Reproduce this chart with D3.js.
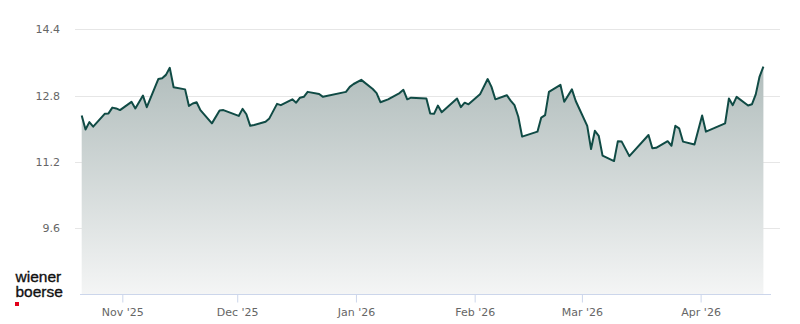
<!DOCTYPE html>
<html>
<head>
<meta charset="utf-8">
<script src="https://cdn.jsdelivr.net/npm/d3@7/dist/d3.min.js"></script>
<style>
  html, body { margin: 0; padding: 0; background: #ffffff; }
  svg { display: block; }
</style>
</head>
<body>
<svg id="chart" width="800" height="324"></svg>
<script>
// ---- data (closing prices) ----
const dates = [
  "2025-10-21","2025-10-22","2025-10-23","2025-10-24","2025-10-27","2025-10-28","2025-10-29","2025-10-30","2025-10-31",
  "2025-11-03","2025-11-04","2025-11-06","2025-11-07","2025-11-10","2025-11-11","2025-11-12","2025-11-13","2025-11-14",
  "2025-11-17","2025-11-18","2025-11-19","2025-11-20","2025-11-21","2025-11-24","2025-11-26","2025-11-27",
  "2025-12-01","2025-12-02","2025-12-03","2025-12-04","2025-12-05","2025-12-08","2025-12-09","2025-12-11","2025-12-12",
  "2025-12-15","2025-12-16","2025-12-17","2025-12-18","2025-12-19","2025-12-22","2025-12-23","2025-12-29","2025-12-30","2025-12-31",
  "2026-01-02","2026-01-05","2026-01-06","2026-01-07","2026-01-09","2026-01-12","2026-01-13","2026-01-14","2026-01-15",
  "2026-01-19","2026-01-20","2026-01-21","2026-01-22","2026-01-23","2026-01-27","2026-01-28","2026-01-29","2026-01-30",
  "2026-02-02","2026-02-04","2026-02-05","2026-02-06","2026-02-09","2026-02-10","2026-02-11","2026-02-12","2026-02-13",
  "2026-02-16","2026-02-17","2026-02-18","2026-02-19","2026-02-20","2026-02-23","2026-02-24","2026-02-26","2026-02-27",
  "2026-03-02","2026-03-03","2026-03-04","2026-03-05","2026-03-06","2026-03-09","2026-03-10","2026-03-11","2026-03-13",
  "2026-03-18","2026-03-19","2026-03-20","2026-03-23","2026-03-24","2026-03-25","2026-03-26","2026-03-27","2026-03-30",
  "2026-04-01","2026-04-02","2026-04-07","2026-04-08","2026-04-09","2026-04-10","2026-04-13","2026-04-14","2026-04-15",
  "2026-04-16","2026-04-17"
];
const prices = [
  12.32,11.98,12.16,12.05,12.36,12.37,12.51,12.49,12.45,
  12.65,12.49,12.80,12.52,13.20,13.22,13.30,13.47,13.00,
  12.95,12.55,12.61,12.64,12.45,12.13,12.44,12.45,
  12.31,12.48,12.35,12.07,12.09,12.17,12.25,12.60,12.57,
  12.71,12.63,12.75,12.77,12.89,12.84,12.77,12.89,13.01,13.08,
  13.18,12.96,12.86,12.64,12.71,12.86,12.94,12.71,12.75,
  12.73,12.37,12.36,12.56,12.40,12.73,12.52,12.63,12.59,
  12.83,13.20,13.01,12.71,12.81,12.68,12.57,12.29,11.81,
  11.90,11.93,12.27,12.33,12.89,13.06,12.65,12.95,12.67,
  12.07,11.51,11.95,11.83,11.35,11.22,11.70,11.69,11.34,
  11.85,11.53,11.54,11.70,11.59,12.07,12.01,11.69,11.62,
  12.32,11.93,12.13,12.73,12.57,12.77,12.56,12.59,12.83,
  13.26,13.50
];
const yTicks = [9.6, 11.2, 12.8, 14.4];
const xTickDates = ["2025-11-01","2025-12-01","2026-01-01","2026-02-01","2026-03-01","2026-04-01"];
const yDomain = [8.0, 14.4];
const logoLines = ["wiener", "boerse"];

// ---- build ----
const parse = d3.timeParse("%Y-%m-%d");
const data = dates.map((d, i) => ({ date: parse(d), value: prices[i] }));

const svg = d3.select("#chart");
const plotTop = 29.3, plotBottom = 294.5;

const x = d3.scaleTime()
  .domain(d3.extent(data, d => d.date))
  .range([81.7, 763.4]);
const y = d3.scaleLinear()
  .domain(yDomain)
  .range([plotBottom, plotTop]);

// gradient
const defs = svg.append("defs");
const grad = defs.append("linearGradient")
  .attr("id", "areaGrad")
  .attr("x1", 0).attr("y1", 0).attr("x2", 0).attr("y2", 1);
grad.append("stop").attr("offset", "0%").attr("stop-color", "#b1bdbc");
grad.append("stop").attr("offset", "100%").attr("stop-color", "#f4f5f5");

// grid lines
const grid = svg.append("g");
grid.selectAll("line")
  .data(yTicks)
  .join("line")
  .attr("x1", 75).attr("x2", 780)
  .attr("y1", d => Math.round(y(d)) + 0.5)
  .attr("y2", d => Math.round(y(d)) + 0.5)
  .attr("stroke", "#e6e6e6")
  .attr("stroke-width", 1);

// y labels
svg.append("g").selectAll("text")
  .data(yTicks)
  .join("text")
  .attr("x", 60)
  .attr("y", d => y(d) + 4)
  .attr("text-anchor", "end")
  .attr("font-family", "DejaVu Sans, sans-serif")
  .attr("font-size", 11)
  .attr("fill", "#666666")
  .text(d => d.toFixed(1));

// area
const area = d3.area()
  .x(d => x(d.date))
  .y0(plotBottom)
  .y1(d => y(d.value));
svg.append("path")
  .datum(data)
  .attr("d", area)
  .attr("fill", "url(#areaGrad)");

// line
const line = d3.line()
  .x(d => x(d.date))
  .y(d => y(d.value));
svg.append("path")
  .datum(data)
  .attr("d", line)
  .attr("fill", "none")
  .attr("stroke", "#104b45")
  .attr("stroke-width", 2)
  .attr("stroke-linejoin", "round");

// x axis
const xAxisG = svg.append("g")
  .attr("transform", `translate(-1.5,${Math.round(plotBottom) - 0.5})`);
const xAxis = d3.axisBottom(x)
  .tickValues(xTickDates.map(parse))
  .tickSize(8)
  .tickFormat(d3.timeFormat("%b '%y"));
xAxisG.call(xAxis);
xAxisG.select(".domain").remove();
xAxisG.append("line")
  .attr("x1", 81.5).attr("x2", 772.5)
  .attr("y1", 0).attr("y2", 0)
  .attr("stroke", "#ccd6eb");
xAxisG.selectAll(".tick line").attr("stroke", "#ccd6eb");
xAxisG.selectAll(".tick text")
  .attr("y", 14)
  .attr("font-family", "DejaVu Sans, sans-serif")
  .attr("font-size", 11)
  .attr("fill", "#666666");

// logo (single text block, two lines)
const logo = svg.append("g");
logo.append("text")
  .attr("x", 15.5).attr("y", 282)
  .attr("font-family", "Liberation Sans, Arial, sans-serif")
  .attr("font-size", 15.5)
  .attr("fill", "#111111")
  .attr("stroke", "#111111")
  .attr("stroke-width", 0.35)
  .selectAll("tspan")
  .data(logoLines)
  .join("tspan")
  .attr("x", 15.5)
  .attr("dy", (d, i) => i === 0 ? 0 : 14.5)
  .text(d => d);
logo.append("rect")
  .attr("x", 15).attr("y", 302)
  .attr("width", 4).attr("height", 4)
  .attr("fill", "#e2001a");
</script>
</body>
</html>
